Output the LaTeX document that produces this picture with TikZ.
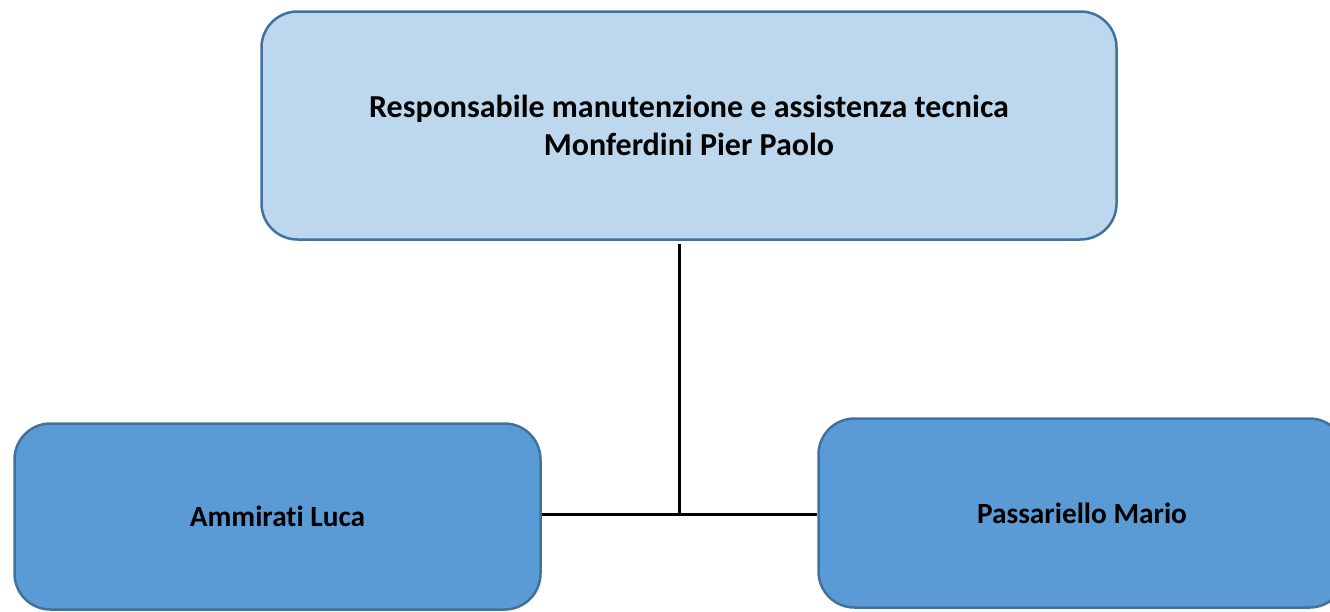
\documentclass[tikz,border=0pt]{standalone}
\usepackage{fontspec}
\setmainfont{Carlito}[Ligatures=NoCommon]
\usepackage{xcolor}
\usepackage{tikz}
\definecolor{boxline}{HTML}{41719C}
\definecolor{lightfill}{HTML}{BDD7EE}
\definecolor{darkfill}{HTML}{5B9BD5}
\begin{document}
\begin{tikzpicture}[
			     x=1pt, y=-1pt,
			     headbox/.style={draw=boxline, line width=2.5pt, fill=lightfill, rounded corners=36pt, align=center, font=\fontsize{32}{38}\selectfont\bfseries},
			     staffbox/.style={draw=boxline, line width=2.5pt, fill=darkfill, rounded corners=36pt, align=center, font=\fontsize{29.3}{36}\selectfont\bfseries},
			     link/.style={draw=black, line width=3pt}
			     ] 
\useasboundingbox (0,0) rectangle (1330,611);
\clip (0,0) rectangle (1330,611);
\node[headbox, minimum width=855pt, minimum height=228pt] (resp) at (689,125.5) {Responsabile manutenzione e assistenza tecnica\\Monferdini Pier Paolo};
\node[staffbox, minimum width=526pt, minimum height=186pt] (luca) at (277.5,516.5) {Ammirati Luca};
\node[staffbox, minimum width=527pt, minimum height=189pt] (mario) at (1082,513) {Passariello Mario};
\coordinate (junc) at (679,514);
\path[link] ([yshift=-3pt]resp.south -| junc) -- (junc);
\path[link] (luca.east |- junc) -- (mario.west |- junc);
\end{tikzpicture}
\end{document}
